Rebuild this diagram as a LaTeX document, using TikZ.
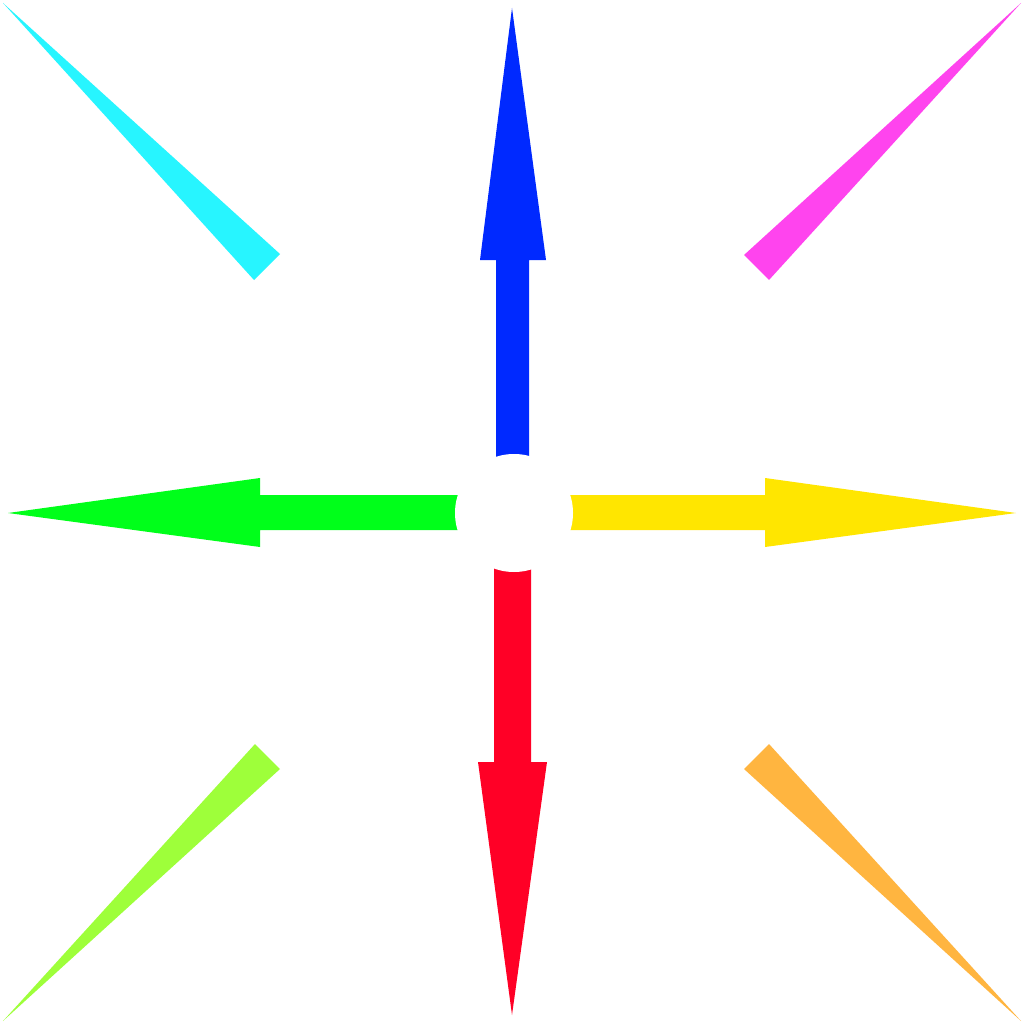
\documentclass[tikz,border=0pt]{standalone}
\begin{document}
\begin{tikzpicture}[x=1pt,y=-1pt]
\definecolor{cblue}{HTML}{0029FF}
\definecolor{cred}{HTML}{FF0026}
\definecolor{cgreen}{HTML}{00FF1A}
\definecolor{cyellow}{HTML}{FFE600}
\definecolor{ccyan}{HTML}{27F5FF}
\definecolor{cmagenta}{HTML}{FF44EE}
\definecolor{clime}{HTML}{9EFF3A}
\definecolor{corange}{HTML}{FFB540}
\useasboundingbox (0,0) rectangle (1024,1024);
\fill[white] (0,0) rectangle (1024,1024);
% blue (up)
\fill[cblue] (512,8) -- (546,260) -- (529,260) -- (529,513) -- (496,513) -- (496,260) -- (480,260) -- cycle;
% red (down)
\fill[cred] (512,1015) -- (547,762) -- (531,762) -- (531,513) -- (494,513) -- (494,762) -- (478,762) -- cycle;
% green (left)
\fill[cgreen] (8,513) -- (260,478) -- (260,495) -- (514,495) -- (514,530) -- (260,530) -- (260,547) -- cycle;
% yellow (right)
\fill[cyellow] (1016,513) -- (765,478) -- (765,495) -- (514,495) -- (514,530) -- (765,530) -- (765,547) -- cycle;
% diagonal wedges
\fill[ccyan] (3,3) -- (280,254) -- (254,280) -- cycle;
\fill[cmagenta] (1021,3) -- (769,280) -- (744,255) -- cycle;
\fill[clime] (3,1021) -- (255,744) -- (280,769) -- cycle;
\fill[corange] (1021,1021) -- (744,769) -- (769,744) -- cycle;
% centre disc
\fill[white] (514,513) circle[radius=59];
\end{tikzpicture}
\end{document}
